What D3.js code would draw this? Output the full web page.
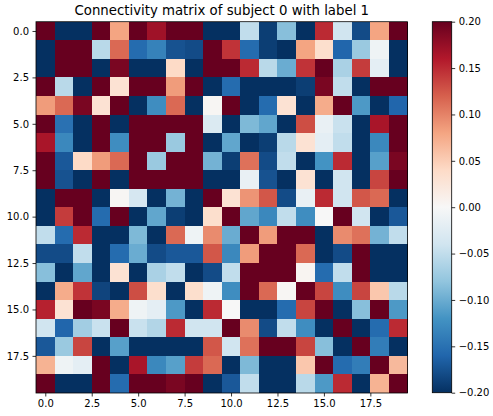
<!DOCTYPE html>
<html>
<head>
<meta charset="utf-8">
<script src="https://cdn.jsdelivr.net/npm/d3@7"></script>
<style>
  html, body { margin: 0; padding: 0; background: #fff; }
  svg { display: block; }
  text { font-family: "DejaVu Sans", sans-serif; fill: #000; }
</style>
</head>
<body>
<script>
// Saturated extremes of the colour scale
const D = 0.2, B = -0.2;

const title = "Connectivity matrix of subject 0 with label 1";
const rowIndex = d3.range(20);
const colIndex = d3.range(20);
const axisTicks = [0, 2.5, 5, 7.5, 10, 12.5, 15, 17.5];
const colorbarTicks = [-0.2, -0.15, -0.1, -0.05, 0, 0.05, 0.1, 0.15, 0.2];
const colorRange = [-0.2, 0.2];
// ColorBrewer RdBu, reversed (low = blue, high = red)
const rdbuR = ["#053061", "#2166ac", "#4393c3", "#92c5de", "#d1e5f0", "#f7f7f7",
               "#fddbc7", "#f4a582", "#d6604d", "#b2182b", "#67001f"];

// Connectivity values, one array per row
const row0  = [D, B, B, D, 0.08, D, 0.17, D, D, B, B, -0.05, -0.19, -0.085, B, 0.15, -0.04, -0.18, 0.08, D];
const row1  = [B, D, D, -0.055, 0.115, -0.155, -0.135, -0.175, -0.18, D, 0.145, -0.155, -0.19, B, 0.08, 0.035, -0.16, -0.075, -0.01, B];
const row2  = [B, D, D, B, 0.19, B, B, 0.04, B, D, D, 0.15, -0.055, -0.1, 0.145, D, -0.065, 0.14, -0.02, B];
const row3  = [D, -0.055, B, D, 0.03, D, D, 0.085, D, B, -0.155, B, B, B, -0.19, 0.19, -0.05, B, D, D];
const row4  = [0.085, 0.115, 0.19, 0.03, D, B, -0.125, 0.115, B, 0.003, D, B, -0.155, 0.03, B, 0.075, D, -0.115, B, -0.16];
const row5  = [D, -0.15, B, D, B, D, D, D, D, -0.03, B, -0.09, -0.105, B, 0.13, -0.015, -0.045, B, 0.165, D];
const row6  = [0.165, -0.13, B, D, -0.125, D, D, -0.075, D, B, -0.105, B, -0.19, -0.055, 0.03, -0.02, -0.05, B, -0.13, D];
const row7  = [D, -0.17, 0.04, 0.085, 0.115, D, -0.075, D, D, -0.095, -0.19, 0.11, -0.18, -0.05, B, -0.12, 0.15, B, -0.11, 0.19];
const row8  = [D, -0.175, B, D, B, D, D, D, D, B, B, -0.015, -0.175, B, 0.03, B, -0.04, B, 0.135, D];
const row9  = [B, D, D, B, 0.003, -0.035, B, -0.095, B, D, 0.03, 0.09, 0.125, -0.18, -0.015, 0.15, -0.04, 0.125, 0.115, B];
const row10 = [B, 0.14, D, -0.155, D, B, -0.105, -0.19, B, 0.035, D, -0.105, -0.13, -0.05, -0.125, 0.0, D, -0.04, B, -0.17];
const row11 = [-0.05, -0.155, 0.15, B, B, -0.09, B, 0.115, -0.01, 0.095, -0.1, D, 0.085, D, D, B, 0.095, 0.11, -0.095, -0.05];
const row12 = [-0.18, -0.18, -0.05, B, -0.155, -0.1, -0.18, -0.17, -0.17, 0.125, -0.13, 0.085, D, D, 0.115, B, -0.18, D, B, B];
const row13 = [-0.085, B, -0.105, B, 0.03, B, -0.065, -0.05, B, -0.18, -0.05, D, D, D, 0.005, -0.155, -0.05, D, B, B];
const row14 = [B, 0.075, 0.145, -0.185, B, 0.13, 0.035, B, 0.035, -0.01, -0.125, D, 0.115, 0.003, D, 0.135, -0.125, 0.135, 0.055, -0.055];
const row15 = [0.155, 0.03, D, 0.19, 0.075, -0.01, -0.02, -0.115, B, 0.15, 0.0, B, B, -0.155, 0.135, D, B, -0.085, D, -0.115];
const row16 = [-0.04, -0.16, -0.07, -0.045, D, -0.045, -0.06, 0.15, -0.04, -0.04, D, 0.095, -0.18, -0.05, -0.125, B, D, B, -0.155, 0.15];
const row17 = [-0.17, -0.075, 0.135, B, -0.11, B, B, B, B, 0.125, -0.04, 0.11, D, D, 0.135, -0.085, B, D, -0.14, B];
const row18 = [0.07, -0.01, -0.02, D, B, 0.165, -0.13, -0.11, 0.14, 0.115, B, -0.09, B, B, 0.055, D, -0.155, -0.14, D, 0.065];
const row19 = [D, B, B, D, -0.155, D, D, 0.19, D, B, -0.17, -0.05, B, B, -0.055, -0.115, 0.15, B, 0.07, D];

const matrix = [row0, row1, row2, row3, row4, row5, row6, row7, row8, row9,
                row10, row11, row12, row13, row14, row15, row16, row17, row18, row19];

const W = 493, H = 416;
const plot = { left: 36, right: 407.5, top: 21.7, bottom: 393 };
const bar = { left: 432.3, right: 451.7, top: 21.7, bottom: 392.7 };

const svg = d3.select("body").append("svg").attr("width", W).attr("height", H);

const x = d3.scaleLinear().domain([-0.5, 19.5]).range([plot.left, plot.right]);
const y = d3.scaleLinear().domain([-0.5, 19.5]).range([plot.top, plot.bottom]);

const color = d3.scaleLinear()
  .domain(d3.range(rdbuR.length).map(i => colorRange[0] + i * (colorRange[1] - colorRange[0]) / (rdbuR.length - 1)))
  .range(rdbuR)
  .interpolate(d3.interpolateRgb)
  .clamp(true);

// Heatmap cells
const cells = [];
rowIndex.forEach(r => colIndex.forEach(c => cells.push({ r, c, v: matrix[r][c] })));

svg.append("g").selectAll("rect").data(cells).join("rect")
  .attr("x", d => x(d.c - 0.5))
  .attr("y", d => y(d.r - 0.5))
  .attr("width", d => x(d.c + 0.5) - x(d.c - 0.5) + 0.4)
  .attr("height", d => y(d.r + 0.5) - y(d.r - 0.5) + 0.4)
  .attr("fill", d => color(d.v))
  .attr("shape-rendering", "crispEdges");

// Frame
svg.append("rect")
  .attr("x", plot.left).attr("y", plot.top)
  .attr("width", plot.right - plot.left).attr("height", plot.bottom - plot.top)
  .attr("fill", "none").attr("stroke", "#000").attr("stroke-width", 0.8);

function styleAxis(g) {
  g.select(".domain").remove();
  g.selectAll(".tick line").attr("stroke", "#000").attr("stroke-width", 0.8);
  g.selectAll(".tick text").attr("font-size", 10).attr("font-family", "DejaVu Sans, sans-serif").attr("fill", "#000");
}

svg.append("g")
  .attr("transform", `translate(0,${plot.bottom})`)
  .call(d3.axisBottom(x).tickValues(axisTicks).tickFormat(d3.format(".1f")).tickSize(3.5).tickPadding(3.5))
  .call(styleAxis);

svg.append("g")
  .attr("transform", `translate(${plot.left},0)`)
  .call(d3.axisLeft(y).tickValues(axisTicks).tickFormat(d3.format(".1f")).tickSize(3.5).tickPadding(3.5))
  .call(styleAxis);

// Title
svg.append("text")
  .attr("x", (plot.left + plot.right) / 2)
  .attr("y", 15)
  .attr("text-anchor", "middle")
  .attr("font-size", 13.3)
  .text(title);

// Colorbar
const cb = d3.scaleLinear().domain(colorRange).range([bar.bottom, bar.top]);
const defs = svg.append("defs");
const grad = defs.append("linearGradient")
  .attr("id", "cbar").attr("x1", 0).attr("x2", 0).attr("y1", 1).attr("y2", 0);
grad.selectAll("stop").data(rdbuR).join("stop")
  .attr("offset", (d, i) => i / (rdbuR.length - 1))
  .attr("stop-color", d => d);

svg.append("rect")
  .attr("x", bar.left).attr("y", bar.top)
  .attr("width", bar.right - bar.left).attr("height", bar.bottom - bar.top)
  .attr("fill", "url(#cbar)")
  .attr("stroke", "#000").attr("stroke-width", 0.8);

svg.append("g")
  .attr("transform", `translate(${bar.right},0)`)
  .call(d3.axisRight(cb).tickValues(colorbarTicks).tickFormat(d3.format(".2f")).tickSize(3.5).tickPadding(3.5))
  .call(styleAxis);
</script>
</body>
</html>
